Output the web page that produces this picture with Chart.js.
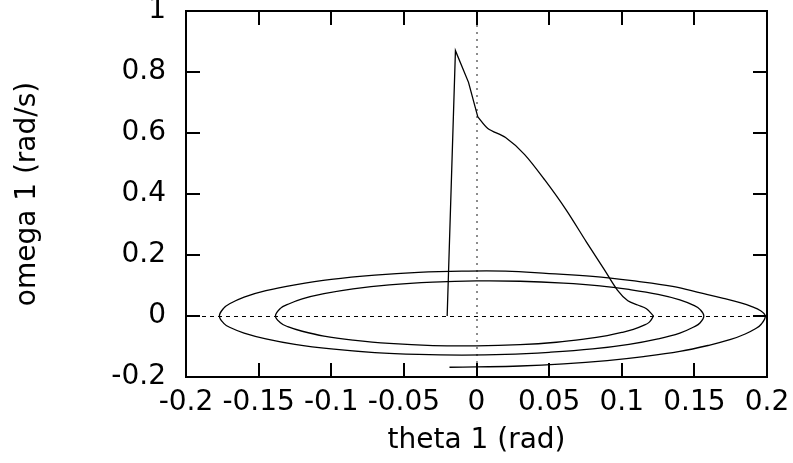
<!DOCTYPE html>
<html>
<head>
<meta charset="utf-8">
<script src="https://cdn.jsdelivr.net/npm/chart.js@4/dist/chart.umd.min.js"></script>
<style>
  html, body { margin: 0; padding: 0; background: #fff; }
  #wrap { width: 793px; height: 463px; }
</style>
</head>
<body>
<div id="wrap"><canvas id="phaseChart" width="793" height="463"></canvas></div>
<script>
/* ---------- DATA ---------- */

// axis ticks
const xTicks = [-0.2, -0.15, -0.1, -0.05, 0, 0.05, 0.1, 0.15, 0.2]
const yTicks = [-0.2, 0, 0.2, 0.4, 0.6, 0.8, 1]

// first kick: straight segments
const spikeTheta = [-0.0202, -0.0145, -0.0055, 0.0009]
const spikeOmega = [0, 0.870, 0.766, 0.653]

// descent after the kick
const fallTheta = [0.0009, 0.0078, 0.0200, 0.0330, 0.0470, 0.0617, 0.0755, 0.0880, 0.0970, 0.1042, 0.1110, 0.1170, 0.1219]
const fallOmega = [0.653, 0.615, 0.585, 0.530, 0.446, 0.348, 0.244, 0.152, 0.085, 0.050, 0.036, 0.024, 0]

// growing loops, half by half
const loopTheta = [
  0.119, 0.115, 0.108, 0.100, 0.090, 0.075, 0.055, 0.030, 0, -0.030, -0.060, -0.085, -0.105, -0.120, -0.130, -0.135, -0.1384,
  -0.135, -0.130, -0.120, -0.105, -0.085, -0.060, -0.030, 0, 0.030, 0.060, 0.085, 0.105, 0.125, 0.140, 0.150, 0.154, 0.1565,
  0.154, 0.150, 0.140, 0.125, 0.105, 0.080, 0.050, 0.020, -0.010, -0.040, -0.070, -0.100, -0.125, -0.145, -0.160, -0.170, -0.174, -0.177,
  -0.174, -0.170, -0.160, -0.145, -0.125, -0.100, -0.070, -0.040, -0.010, 0.020, 0.050, 0.080, 0.110, 0.135, 0.155, 0.170, 0.182, 0.190, 0.195, 0.1988,
  0.196, 0.192, 0.185, 0.175, 0.160, 0.140, 0.115, 0.090, 0.060, 0.030, 0, -0.0186
]
const loopOmega = [
  -0.020, -0.031, -0.044, -0.054, -0.064, -0.075, -0.086, -0.094, -0.098, -0.097, -0.090, -0.079, -0.066, -0.050, -0.035, -0.022, 0,
  0.025, 0.038, 0.056, 0.073, 0.089, 0.102, 0.111, 0.115, 0.114, 0.108, 0.099, 0.087, 0.071, 0.053, 0.034, 0.021, 0,
  -0.022, -0.035, -0.056, -0.075, -0.093, -0.108, -0.119, -0.126, -0.128, -0.126, -0.120, -0.108, -0.093, -0.075, -0.056, -0.037, -0.024, 0,
  0.026, 0.040, 0.062, 0.083, 0.102, 0.120, 0.134, 0.143, 0.147, 0.147, 0.139, 0.130, 0.114, 0.097, 0.075, 0.058, 0.043, 0.030, 0.019, 0,
  -0.027, -0.042, -0.059, -0.077, -0.096, -0.116, -0.133, -0.146, -0.157, -0.164, -0.167, -0.168
]

const xTitle = "theta 1 (rad)"
const yTitle = "omega 1 (rad/s)"

/* ---------- FRAME, TICKS, ZERO AXES ---------- */

const frame = {
  id: 'frame',
  beforeDatasetsDraw(chart) {
    const {ctx, chartArea: a, scales: {x, y}} = chart
    ctx.save()
    // y = 0
    ctx.strokeStyle = '#000'
    ctx.lineWidth = 1
    ctx.setLineDash([4, 4])
    const y0 = Math.round(y.getPixelForValue(0)) + 0.5
    ctx.beginPath(); ctx.moveTo(a.left, y0); ctx.lineTo(a.right, y0); ctx.stroke()
    // x = 0
    ctx.strokeStyle = '#8c8c8c'
    ctx.lineWidth = 2
    ctx.setLineDash([2, 5])
    const x0 = Math.round(x.getPixelForValue(0))
    ctx.beginPath(); ctx.moveTo(x0, a.top); ctx.lineTo(x0, a.bottom); ctx.stroke()
    ctx.restore()
  },
  afterDraw(chart) {
    const {ctx, chartArea: a, scales: {x, y}} = chart
    const len = 14
    ctx.save()
    ctx.strokeStyle = '#000'
    ctx.lineWidth = 2
    ctx.beginPath()
    xTicks.forEach(v => {
      const px = Math.round(x.getPixelForValue(v))
      ctx.moveTo(px, a.bottom); ctx.lineTo(px, a.bottom - len)
      ctx.moveTo(px, a.top); ctx.lineTo(px, a.top + len)
    })
    yTicks.forEach(v => {
      const py = Math.round(y.getPixelForValue(v))
      ctx.moveTo(a.left, py); ctx.lineTo(a.left + len, py)
      ctx.moveTo(a.right, py); ctx.lineTo(a.right - len, py)
    })
    ctx.stroke()
    ctx.strokeRect(a.left, a.top, a.right - a.left, a.bottom - a.top)
    ctx.restore()
  }
}

/* ---------- CHART ---------- */

Chart.defaults.font.family = "'DejaVu Sans', sans-serif"
Chart.defaults.font.size = 28
Chart.defaults.color = '#000'

const line = {showLine: true, borderColor: '#000', borderWidth: 1.3, pointRadius: 0}

try {
  new Chart(document.getElementById("phaseChart"), {
    type: 'scatter',
    data: {
      datasets: [
        {...line, data: spikeTheta.map((t, i) => ({x: t, y: spikeOmega[i]})), tension: 0},
        {...line, data: fallTheta.map((t, i) => ({x: t, y: fallOmega[i]})), tension: 0.3},
        {...line, data: [{x: fallTheta[fallTheta.length - 1], y: 0}].concat(loopTheta.map((t, i) => ({x: t, y: loopOmega[i]}))), tension: 0.4}
      ]
    },
    options: {
      responsive: false,
      animation: false,
      layout: {padding: {top: 11, right: 26, left: 0, bottom: 0}},
      plugins: {legend: {display: false}, tooltip: {enabled: false}},
      scales: {
        x: {
          type: 'linear',
          min: -0.2, max: 0.2,
          afterBuildTicks: s => { s.ticks = xTicks.map(v => ({value: v})) },
          afterFit: s => { s.height = 86; s.paddingLeft = 0; s.paddingRight = 0 },
          grid: {display: false, drawTicks: false},
          border: {display: false},
          ticks: {padding: 9, autoSkip: false, maxRotation: 0, callback: v => String(v)},
          title: {display: true, text: xTitle, padding: {top: 0, bottom: 5}}
        },
        y: {
          type: 'linear',
          min: -0.2, max: 1,
          afterBuildTicks: s => { s.ticks = yTicks.map(v => ({value: v})) },
          afterFit: s => { s.width = 186; s.paddingTop = 0; s.paddingBottom = 0 },
          grid: {display: false, drawTicks: false},
          border: {display: false},
          ticks: {padding: 20, callback: v => String(v)},
          title: {display: true, text: yTitle, padding: {top: 11, bottom: 0}}
        }
      }
    },
    plugins: [frame]
  })
} catch(e) {
  console.error('Error initializing phase chart:', e)
}
</script>
</body>
</html>
